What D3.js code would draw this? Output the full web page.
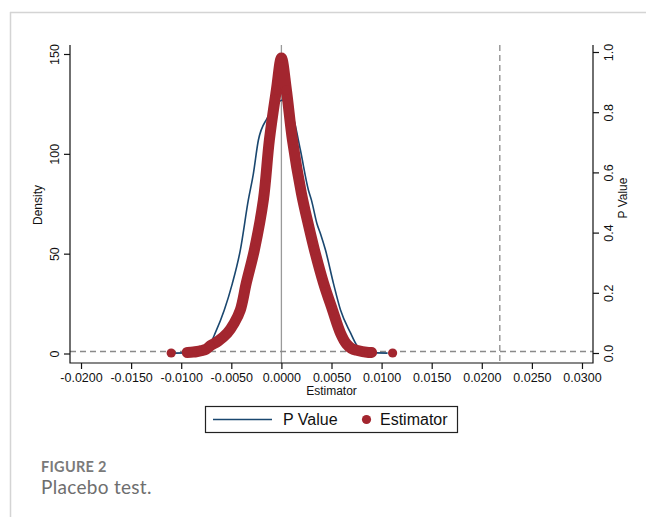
<!DOCTYPE html>
<html>
<head>
<meta charset="utf-8">
<script src="https://cdn.jsdelivr.net/npm/d3@7"></script>
<style>
  body { margin: 0; background: #fff; }
  svg { display: block; }
  .axis-title { font-family: "Liberation Sans", Arial, sans-serif; font-size: 12px; fill: #111; }
  .legend-text { font-family: "Liberation Sans", Arial, sans-serif; font-size: 16px; fill: #111; }
</style>
</head>
<body>
<script>
// x ticks (estimator) and the two y axes
const xTicks = [-0.02, -0.015, -0.01, -0.005, 0, 0.005, 0.01, 0.015, 0.02, 0.025, 0.03];
const densityTicks = [0, 50, 100, 150];
const pTicks = [0, 0.2, 0.4, 0.6, 0.8, 1.0];

// kernel density of the placebo estimates (left axis)
const densityX = [-0.0112, -0.0095, -0.0085, -0.0078, -0.0072, -0.0066, -0.0057, -0.0049, -0.0041, -0.0033,
  -0.0028, -0.0023, -0.0014, -0.0004, 0.0000, 0.0006, 0.0012, 0.0019, 0.0027, 0.0030,
  0.00355, 0.0039, 0.0044, 0.0052, 0.0059, 0.0069, 0.0075, 0.0082, 0.0095, 0.0106];
const densityY = [0.2, 0.3, 0.6, 1.2, 4, 10.3, 21.8, 35, 51.8, 76.9,
  90, 106.8, 118, 125, 126.8, 125, 118, 101.8, 81.8, 76.8,
  65, 60, 51.8, 35, 21.8, 10.3, 4.3, 0.8, 0.3, 0.2];

// placebo estimates against their p values (right axis)
const estX = [-0.0110, -0.0094, -0.0088, -0.0084, -0.0080, -0.0075, -0.0071, -0.0063, -0.0054, -0.0047,
  -0.0041, -0.0035, -0.0027, -0.0018, -0.0012, -0.0005, 0.0000, 0.0005, 0.0011, 0.0020,
  0.0027, 0.0033, 0.0042, 0.0051, 0.0059, 0.0065, 0.0070, 0.0075, 0.0087, 0.0090, 0.0111];
const estP = [0.000, 0.002, 0.003, 0.005, 0.008, 0.013, 0.024, 0.040, 0.066, 0.100,
  0.143, 0.233, 0.342, 0.508, 0.708, 0.874, 0.980, 0.874, 0.708, 0.530,
  0.425, 0.342, 0.233, 0.143, 0.066, 0.030, 0.015, 0.009, 0.002, 0.002, 0.000];

const trueEffect = 0.0218;   // dashed vertical line
const refP = 0.005;          // dashed horizontal line

const W = 646, H = 517;
const plot = { left: 70, right: 593, top: 45, bottom: 363 };
const red = '#a3262f', blue = '#1a476f';

const svg = d3.select('body').append('svg').attr('width', W).attr('height', H);

// card border
svg.append('line').attr('x1', 10).attr('x2', W).attr('y1', 12.5).attr('y2', 12.5)
  .attr('stroke', '#d4d4d4').attr('stroke-width', 1.5);
svg.append('line').attr('x1', 10.5).attr('x2', 10.5).attr('y1', 12).attr('y2', H)
  .attr('stroke', '#d4d4d4').attr('stroke-width', 1.5);

const x = d3.scaleLinear().domain([-0.0211, 0.0311]).range([plot.left, plot.right]);
const yD = d3.scaleLinear().domain([0, 150]).range([353.5, 54]);
const yP = d3.scaleLinear().domain([0, 1]).range([353, 52]);

// reference lines
svg.append('line')
  .attr('x1', x(0)).attr('x2', x(0)).attr('y1', plot.top).attr('y2', plot.bottom)
  .attr('stroke', '#9a9a9a').attr('stroke-width', 1.3);
svg.append('line')
  .attr('x1', x(trueEffect)).attr('x2', x(trueEffect)).attr('y1', plot.top).attr('y2', plot.bottom)
  .attr('stroke', '#8a8a8a').attr('stroke-width', 1.3).attr('stroke-dasharray', '6,4');
svg.append('line')
  .attr('x1', plot.left).attr('x2', plot.right).attr('y1', yP(refP)).attr('y2', yP(refP))
  .attr('stroke', '#8a8a8a').attr('stroke-width', 1.3).attr('stroke-dasharray', '6,4');

// axes
const tickLen = 6;
const fmtX = d => d3.format('.4f')(d).replace('\u2212', '-');
const gx = svg.append('g').attr('transform', `translate(0,${plot.bottom})`)
  .call(d3.axisBottom(x).tickValues(xTicks).tickSize(tickLen).tickSizeOuter(0).tickFormat(fmtX));
const gl = svg.append('g').attr('transform', `translate(${plot.left},0)`)
  .call(d3.axisLeft(yD).tickValues(densityTicks).tickSize(tickLen).tickSizeOuter(0));
const gr = svg.append('g').attr('transform', `translate(${plot.right},0)`)
  .call(d3.axisRight(yP).tickValues(pTicks).tickSize(tickLen).tickSizeOuter(0).tickFormat(d3.format('.1f')));

[gx, gl, gr].forEach(g => {
  g.attr('font-family', '"Liberation Sans", Arial, sans-serif').attr('font-size', 12.5);
  g.select('.domain').remove();
  g.selectAll('.tick line').attr('stroke', '#111').attr('stroke-width', 1.2);
  g.selectAll('.tick text').attr('fill', '#111');
});
gx.selectAll('.tick text').attr('y', 10).attr('dy', '0.71em');
gl.selectAll('.tick text').attr('x', null).attr('dy', null)
  .attr('transform', 'translate(-11,0) rotate(-90)').attr('text-anchor', 'middle').attr('y', 0);
gr.selectAll('.tick text').attr('x', null).attr('dy', null)
  .attr('transform', 'translate(19.5,0) rotate(-90)').attr('text-anchor', 'middle').attr('y', 0);

// axis lines
svg.append('path').attr('d', `M${plot.left},${plot.top}V${plot.bottom}H${plot.right}V${plot.top}`)
  .attr('fill', 'none').attr('stroke', '#111').attr('stroke-width', 1.2);

// axis titles
svg.append('text').attr('class', 'axis-title').attr('text-anchor', 'middle')
  .attr('x', (plot.left + plot.right) / 2).attr('y', 395).text('Estimator');
svg.append('text').attr('class', 'axis-title').attr('text-anchor', 'middle')
  .attr('transform', `translate(42,205) rotate(-90)`).text('Density');
svg.append('text').attr('class', 'axis-title').attr('text-anchor', 'middle')
  .attr('transform', `translate(627,198) rotate(-90)`).text('P Value');

// density line
const dens = densityX.map((d, i) => [d, densityY[i]]);
svg.append('path').datum(dens)
  .attr('fill', 'none').attr('stroke', blue).attr('stroke-width', 1.6)
  .attr('d', d3.line().x(d => x(d[0])).y(d => yD(d[1])).curve(d3.curveMonotoneX));

// estimator scatter: dense runs drawn as a band, plus every point as a dot
const est = estX.map((d, i) => [x(d), yP(estP[i])]);
const runs = [];
est.forEach((p, i) => {
  if (i && Math.abs(p[0] - est[i - 1][0]) < 14) runs[runs.length - 1].push(p);
  else runs.push([p]);
});
const band = d3.line().curve(d3.curveCatmullRom.alpha(0.5));
svg.append('g').selectAll('path').data(runs.filter(r => r.length > 1)).join('path')
  .attr('fill', 'none').attr('stroke', red).attr('stroke-width', 11)
  .attr('stroke-linejoin', 'round').attr('stroke-linecap', 'round')
  .attr('d', r => band(r));
svg.append('g').selectAll('circle').data(est).join('circle')
  .attr('cx', d => d[0]).attr('cy', d => d[1]).attr('r', 4.6).attr('fill', red);

// legend
const lg = svg.append('g');
lg.append('rect').attr('x', 205.5).attr('y', 406.5).attr('width', 252).attr('height', 26)
  .attr('fill', '#fff').attr('stroke', '#222').attr('stroke-width', 1.2);
lg.append('line').attr('x1', 213).attr('x2', 272).attr('y1', 419.5).attr('y2', 419.5)
  .attr('stroke', blue).attr('stroke-width', 1.6);
lg.append('text').attr('class', 'legend-text').attr('x', 283).attr('y', 425).text('P Value');
lg.append('circle').attr('cx', 366.5).attr('cy', 419.5).attr('r', 4.6).attr('fill', red);
lg.append('text').attr('class', 'legend-text').attr('x', 380).attr('y', 425).text('Estimator');

// caption
svg.append('text').attr('x', 41).attr('y', 472)
  .attr('font-family', 'Lato, sans-serif').attr('font-weight', 700).attr('font-size', 14.5)
  .attr('fill', '#7a7a7a').attr('letter-spacing', 0.3).text('FIGURE 2');
svg.append('text').attr('x', 41).attr('y', 494)
  .attr('font-family', 'Lato, sans-serif').attr('font-size', 19)
  .attr('fill', '#6e6e6e').attr('letter-spacing', 0.3).text('Placebo test.');
</script>
</body>
</html>
